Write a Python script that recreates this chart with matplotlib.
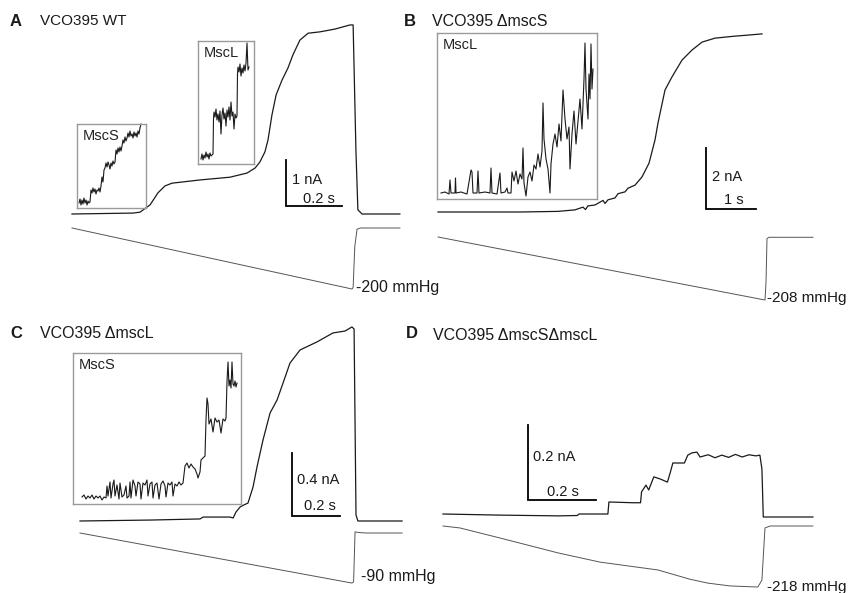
import matplotlib
matplotlib.use('Agg')
import matplotlib.pyplot as plt

W, H = 850, 593

# ---- panel A : VCO395 WT (time in s, current in nA, pressure in mmHg)
A_t = [0, 0.218, 0.243, 0.279, 0.307, 0.332, 0.357, 0.457, 0.564, 0.625, 0.654, 0.671,
       0.689, 0.70, 0.714, 0.729, 0.75, 0.771, 0.789, 0.814, 0.843, 0.886, 0.939, 0.993,
       1.004, 1.014, 1.021, 1.036, 1.171]
A_i = [0, 0.02, 0.04, 0.20, 0.46, 0.61, 0.67, 0.74, 0.80, 0.89, 1.0, 1.13,
       1.35, 1.61, 2.15, 2.59, 2.91, 3.17, 3.46, 3.78, 3.93, 3.96, 4.02, 4.11,
       4.11, 1.39, 0.09, 0, 0]
A_pt = [0, 1.0, 1.004, 1.01, 1.018, 1.03, 1.171]
A_p = [0, -200, -195, -60, -4, 0, 0]

# insets (ms, pA) for panel A
A_mscs_t = [2, 3, 4, 5, 6, 7, 8, 9, 10, 11, 12, 13, 14, 15, 16, 17, 18, 19, 20, 21, 22, 23,
            24, 25, 26, 27, 28, 29, 30, 31, 32, 33, 34, 35, 36, 37, 38, 39, 40, 41, 42, 43, 44,
            45, 46, 47, 48, 49, 50, 51, 52, 53, 54, 55, 56, 57, 58, 59, 60, 61, 62, 63, 64]
A_mscs_i = [5, 9, 3, 8, 4, 10, 5, 8, 3, 7, 5, 6, 18, 15, 20, 16, 19, 14, 18, 17, 20, 16,
            22, 31, 26, 38, 40, 45, 41, 46, 43, 39, 45, 42, 47, 44, 46, 58, 54, 60, 56, 61, 57,
            62, 68, 65, 71, 67, 70, 75, 71, 77, 72, 74, 70, 76, 72, 75, 71, 77, 74, 80, 84]
A_mscl_t = [3, 4, 5, 6, 7, 8, 9, 10, 11, 12, 13, 14, 15, 15.5, 16, 17, 18, 19, 20, 21, 22, 23,
            24, 25, 26, 27, 28, 29, 30, 31, 32, 33, 34, 35, 36, 37, 38, 39, 39.5, 40, 41, 42,
            43, 44, 45, 46, 47, 48, 49, 50, 51]
A_mscl_i = [5, 10, 4, 9, 6, 12, 7, 10, 5, 11, 8, 9, 10, 45, 52, 47, 55, 44, 50, 42, 53, 30,
            49, 56, 45, 51, 38, 54, 47, 57, 44, 62, 48, 52, 35, 50, 46, 48, 90, 97, 92, 100,
            88, 96, 91, 99, 93, 101, 121, 94, 97]

# ---- panel B : VCO395 dmscS
B_t = [0, 1.64, 2.4, 2.74, 2.9, 2.95, 3.0, 3.14, 3.3, 3.34, 3.4, 3.54, 3.6, 3.74, 3.8, 3.94,
       4.08, 4.22, 4.34, 4.40, 4.54, 4.68, 4.88, 5.08, 5.28, 5.54, 5.9, 6.2, 6.48]
B_i = [0, 0, 0.02, 0.07, 0.16, 0.08, 0.2, 0.23, 0.38, 0.28, 0.4, 0.46, 0.6, 0.66, 0.78, 0.88,
       1.15, 1.6, 2.36, 2.92, 4.0, 4.43, 4.98, 5.31, 5.57, 5.70, 5.76, 5.8, 5.84]
B_pt = [0, 6.54, 6.56, 6.58, 6.62, 7.5]
B_p = [0, -208, -150, -5, -1, -1]

B_mscl_t = [4, 8, 12, 13, 14, 18, 18.5, 19, 24, 30, 34, 35, 36, 40, 41, 42, 48, 53, 54, 55, 60,
            63, 64, 68, 70, 71, 74, 75, 77, 79, 81, 83, 85, 86, 87, 89, 91, 93, 95, 97, 99, 101,
            103, 105, 106, 107, 109, 111, 113, 114, 116, 118, 120, 122, 124, 126, 128, 130,
            132, 133, 135, 137, 139, 141, 143, 145, 147, 148, 149, 151, 152, 153, 154, 155, 156]
B_mscl_i = [6, 7, 5, 19, 6, 6, 21, 6, 7, 5, 29, 27, 6, 6, 28, 6, 7, 6, 31, 6, 5,
            26, 6, 7, 11, 6, 6, 27, 18, 28, 15, 25, 20, 51, 16, 3, 22, 27, 18, 34, 30, 45,
            32, 48, 96, 60, 40, 30, 6, 35, 55, 65, 52, 75, 58, 109, 80, 60,
            72, 30, 65, 88, 55, 78, 100, 70, 120, 156, 110, 80, 125, 100, 155, 110, 130]

# ---- panel C : VCO395 dmscL
C_t = [0, 0.292, 0.5, 0.513, 0.625, 0.638, 0.65, 0.667, 0.683, 0.70, 0.721, 0.7375, 0.7625,
       0.792, 0.821, 0.846, 0.875, 0.917, 0.9875, 1.054, 1.104, 1.133, 1.142, 1.15, 1.158, 1.342]
C_i = [0, 0.006, 0.013, 0.025, 0.025, 0.019, 0.057, 0.089, 0.102, 0.114, 0.216, 0.343, 0.514,
       0.686, 0.768, 0.876, 1.003, 1.086, 1.137, 1.194, 1.206, 1.232, 1.219, 0.038, 0, 0]
C_pt = [0, 1.133, 1.14, 1.146, 1.16, 1.19, 1.342]
C_p = [0, -90, -88, 2, 1, 0, 0]

C_mscs_t = [9, 11, 13, 15, 17, 19, 21, 23, 25, 27, 29, 31, 33, 34, 35, 37, 38, 40, 41, 42, 44,
            46, 47, 49, 51, 53, 54, 56, 57, 58, 60, 62, 63, 65, 67, 68, 70, 72, 74, 75, 77, 79,
            80, 82, 84, 86, 88, 90, 92, 93, 95, 97, 99, 100, 102, 104, 106, 108, 110, 112, 114,
            116, 118, 120, 122, 124, 125, 127, 128, 130, 132, 133, 134, 135, 136, 138, 140, 142,
            144, 146, 148, 150, 152, 153, 154, 155, 156, 157, 158, 159, 160, 161, 162, 163, 164]
C_mscs_i = [7, 9, 5, 8, 6, 9, 5, 8, 6, 8, 4, 7, 6, 18, 8, 22, 6, 20, 24, 8, 19,
            5, 21, 7, 9, 18, 6, 8, 22, 6, 24, 18, 8, 22, 20, 5, 21, 19, 24, 8, 20, 22,
            6, 19, 21, 5, 20, 23, 18, 7, 21, 19, 22, 8, 20, 18, 22, 19, 21, 38, 41,
            36, 40, 37, 35, 30, 26, 32, 44, 46, 48, 84, 106, 100, 80, 85, 72, 86,
            82, 84, 71, 85, 83, 86, 122, 142, 118, 124, 116, 142, 120, 118, 123, 117, 121]

# ---- panel D : VCO395 dmscSdmscL
D_t = [0, 0.17, 0.34, 0.395, 0.40, 0.485, 0.488, 0.56, 0.581, 0.584, 0.597, 0.605, 0.62, 0.64,
       0.66, 0.668, 0.676, 0.71, 0.72, 0.732, 0.747, 0.756, 0.78, 0.8, 0.82, 0.84, 0.86, 0.88,
       0.9, 0.92, 0.932, 0.938, 0.942, 1.088]
D_i = [0, -0.003, -0.005, -0.004, 0.0, 0.0, 0.032, 0.03, 0.03, 0.059, 0.077, 0.064, 0.099,
       0.093, 0.085, 0.109, 0.136, 0.136, 0.157, 0.163, 0.165, 0.152, 0.158, 0.150, 0.157,
       0.151, 0.159, 0.152, 0.158, 0.155, 0.157, 0.12, -0.008, -0.008]
D_pt = [0, 0.05, 0.168, 0.338, 0.462, 0.632, 0.726, 0.779, 0.844, 0.926, 0.938, 0.947, 0.962, 1.088]
D_p = [0, -7, -43, -96, -129, -157, -190, -204, -214, -218, -193, -7, 0, 0]

TRACE = '#1a1a1a'
PRESS = '#555555'
BOX = '#9a9a9a'
FONT = 'Liberation Sans'


def add_px_axes(fig, box, origin, scale):
    # box in pixels (left, top, right, bottom); origin = pixel of data (0, 0)
    left, top, right, bottom = box
    x0, y0 = origin
    sx, sy = scale
    ax = fig.add_axes([left / W, 1 - bottom / H, (right - left) / W, (bottom - top) / H])
    ax.set_xlim((left - x0) / sx, (right - x0) / sx)
    ax.set_ylim((y0 - bottom) / sy, (y0 - top) / sy)
    ax.axis('off')
    return ax


def add_inset(fig, box, t, i, label):
    left, top, right, bottom = box
    ax = fig.add_axes([left / W, 1 - bottom / H, (right - left) / W, (bottom - top) / H])
    ax.set_xlim(0, right - left)
    ax.set_ylim(0, bottom - top)
    ax.set_xticks([])
    ax.set_yticks([])
    ax.patch.set_alpha(0)
    for s in ax.spines.values():
        s.set_color(BOX)
        s.set_linewidth(1.0)
    ax.plot(t, i, color=TRACE, lw=0.8, clip_on=False)
    ax.text(6, bottom - top - 12, label, fontsize=10.5, family=FONT, color='#222222',
            va='center', ha='left')
    return ax


def scale_bar(ax, corner, dx, dy):
    x, y = corner
    ax.plot([x, x, x + dx], [y + dy, y, y], color='black', lw=1.3,
            solid_joinstyle='miter', clip_on=False)


def ptext(fig, x, y, s, bold=False, size=10.5):
    fig.text(x / W, 1 - y / H, s, fontsize=size, family=FONT, va='center', ha='left',
             fontweight='bold' if bold else 'normal', color='#1a1a1a')


fig = plt.figure(figsize=(8.5, 5.93), dpi=100)

# A
ax = add_px_axes(fig, (60, 15, 410, 222), (72, 214), (280, 46))
ax.plot(A_t, A_i, color=TRACE, lw=0.9, clip_on=False)
scale_bar(ax, (0.764, 0.174), 0.2, 1.0)
ax = add_px_axes(fig, (60, 222, 410, 300), (72, 228), (280, 0.305))
ax.plot(A_pt, A_p, color=PRESS, lw=0.7, clip_on=False)
add_inset(fig, (77, 124, 146, 208), A_mscs_t, A_mscs_i, 'MscS')
add_inset(fig, (198, 41, 254, 164), A_mscl_t, A_mscl_i, 'MscL')
ptext(fig, 10, 21, 'A', bold=True, size=12)
ptext(fig, 40, 21, 'VCO395 WT', size=11)
ptext(fig, 292, 180, '1 nA')
ptext(fig, 303, 199, '0.2 s')
ptext(fig, 356, 288, '-200 mmHg', size=11.5)

# B
ax = add_px_axes(fig, (430, 15, 820, 222), (438, 212), (50, 30.5))
ax.plot(B_t, B_i, color=TRACE, lw=0.9, clip_on=False)
scale_bar(ax, (5.36, 0.10), 1.0, 2.0)
ax = add_px_axes(fig, (430, 230, 820, 305), (438, 237), (50, 0.303))
ax.plot(B_pt, B_p, color=PRESS, lw=0.7, clip_on=False)
add_inset(fig, (437, 33, 597, 199), B_mscl_t, B_mscl_i, 'MscL')
ptext(fig, 404, 21, 'B', bold=True, size=12)
ptext(fig, 432, 21, 'VCO395 \u0394mscS', size=11.5)
ptext(fig, 712, 177, '2 nA')
ptext(fig, 724, 200, '1 s')
ptext(fig, 767, 298, '-208 mmHg', size=11)

# C
ax = add_px_axes(fig, (70, 320, 410, 525), (80, 521), (240, 157.5))
ax.plot(C_t, C_i, color=TRACE, lw=0.9, clip_on=False)
scale_bar(ax, (0.883, 0.032), 0.2, 0.4)
ax = add_px_axes(fig, (70, 525, 410, 590), (80, 533), (240, 0.556))
ax.plot(C_pt, C_p, color=PRESS, lw=0.7, clip_on=False)
add_inset(fig, (73, 353, 241, 504), C_mscs_t, C_mscs_i, 'MscS')
ptext(fig, 10, 333, 'C', bold=True, size=12)
ptext(fig, 40, 333, 'VCO395 \u0394mscL', size=11.5)
ptext(fig, 297, 480, '0.4 nA')
ptext(fig, 304, 506, '0.2 s')
ptext(fig, 361, 576, '-90 mmHg', size=11.5)

# D
ax = add_px_axes(fig, (430, 320, 820, 522), (443, 514), (340, 375))
ax.plot(D_t, D_i, color=TRACE, lw=0.9, clip_on=False)
scale_bar(ax, (0.25, 0.037), 0.2, 0.2)
ax = add_px_axes(fig, (430, 522, 820, 592), (443, 526), (340, 0.28))
ax.plot(D_pt, D_p, color=PRESS, lw=0.7, clip_on=False)
ptext(fig, 406, 333, 'D', bold=True, size=12)
ptext(fig, 433, 335, 'VCO395 \u0394mscS\u0394mscL', size=11.5)
ptext(fig, 533, 457, '0.2 nA')
ptext(fig, 547, 492, '0.2 s')
ptext(fig, 767, 587, '-218 mmHg', size=11)

fig.savefig('out.png', dpi=100)
